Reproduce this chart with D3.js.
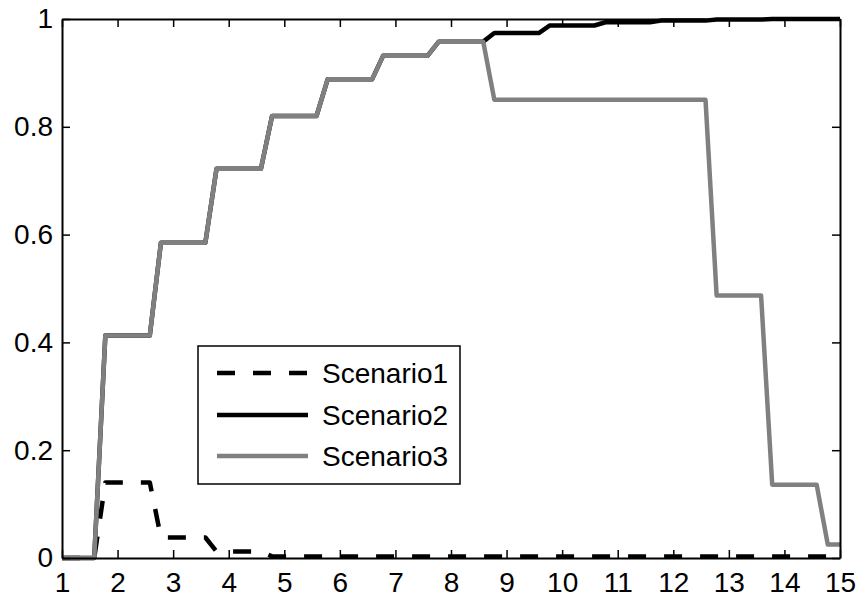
<!DOCTYPE html>
<html>
<head>
<meta charset="utf-8">
<script src="https://cdn.jsdelivr.net/npm/d3@7"></script>
<style>
html,body{margin:0;padding:0;background:#fff;}
svg{display:block;}
text{font-family:Arial,"Liberation Sans",Helvetica,sans-serif;fill:#000;}
</style>
</head>
<body>
<svg id="chart" width="864" height="605"></svg>
<script>
// ---- data ----
const xValues = [1, 1.58, 1.78, 2.58, 2.78, 3.58, 3.78, 4.58, 4.78, 5.58, 5.78, 6.58, 6.78, 7.58, 7.78, 8.58, 8.78, 9.58, 9.78, 10.58, 10.78, 11.58, 11.78, 12.58, 12.78, 13.58, 13.78, 14.58, 14.78, 15];
const scenario1 = [0, 0, 0.14, 0.14, 0.038, 0.038, 0.012, 0.012, 0.003, 0.003, 0.003, 0.003, 0.003, 0.003, 0.003, 0.003, 0.003, 0.003, 0.003, 0.003, 0.003, 0.003, 0.003, 0.003, 0.003, 0.003, 0.003, 0.003, 0.003, 0.003];
const scenario2 = [0, 0, 0.413, 0.413, 0.585, 0.585, 0.722, 0.722, 0.82, 0.82, 0.888, 0.888, 0.932, 0.932, 0.958, 0.958, 0.974, 0.974, 0.988, 0.988, 0.994, 0.994, 0.997, 0.997, 0.999, 0.999, 1, 1, 1, 1];
const scenario3 = [0, 0, 0.413, 0.413, 0.585, 0.585, 0.722, 0.722, 0.82, 0.82, 0.888, 0.888, 0.932, 0.932, 0.958, 0.958, 0.85, 0.85, 0.85, 0.85, 0.85, 0.85, 0.85, 0.85, 0.487, 0.487, 0.136, 0.136, 0.025, 0.025];
const seriesNames = ["Scenario1", "Scenario2", "Scenario3"];
const xTicks = [1, 2, 3, 4, 5, 6, 7, 8, 9, 10, 11, 12, 13, 14, 15];
const yTicks = [0, 0.2, 0.4, 0.6, 0.8, 1];

// ---- layout ----
const L = 62, R = 840, T = 19, B = 558;
const svg = d3.select("#chart");
const x = d3.scaleLinear().domain([1, 15]).range([L, R]);
const y = d3.scaleLinear().domain([0, 1]).range([B, T]);
const fontSize = 28;

const styles = [
  {color: "#000", dash: "18,18"},
  {color: "#000", dash: null},
  {color: "#808080", dash: null}
];
const allSeries = [scenario1, scenario2, scenario3];

// lines
const line = d3.line().x((d, i) => x(xValues[i])).y(d => y(d));
svg.append("clipPath").attr("id", "clip").append("rect")
  .attr("x", L).attr("y", T - 3).attr("width", R - L).attr("height", B - T + 6);
const gLines = svg.append("g").attr("clip-path", "url(#clip)");
allSeries.forEach((s, k) => {
  gLines.append("path").datum(s)
    .attr("d", line)
    .attr("fill", "none")
    .attr("stroke", styles[k].color)
    .attr("stroke-width", 4.5)
    .attr("stroke-linejoin", "round")
    .attr("stroke-dasharray", styles[k].dash);
});

// axes (box with inward ticks)
const tickLen = 8;
const axB = svg.append("g").attr("transform", `translate(0,${B})`)
  .call(d3.axisBottom(x).tickValues(xTicks).tickSizeInner(-tickLen).tickSizeOuter(0).tickPadding(14).tickFormat(d3.format("d")));
const axT = svg.append("g").attr("transform", `translate(0,${T})`)
  .call(d3.axisTop(x).tickValues(xTicks).tickSizeInner(-tickLen).tickSizeOuter(0).tickFormat(""));
const axL = svg.append("g").attr("transform", `translate(${L},0)`)
  .call(d3.axisLeft(y).tickValues(yTicks).tickSizeInner(-tickLen).tickSizeOuter(0).tickPadding(9).tickFormat(d => d === 0 ? "0" : d === 1 ? "1" : d3.format(".1f")(d)));
const axR = svg.append("g").attr("transform", `translate(${R},0)`)
  .call(d3.axisRight(y).tickValues(yTicks).tickSizeInner(-tickLen).tickSizeOuter(0).tickFormat(""));
[axB, axT, axL, axR].forEach(g => {
  g.select(".domain").attr("stroke", "#000").attr("stroke-width", 2);
  g.selectAll(".tick line").attr("stroke", "#000").attr("stroke-width", 1.5);
  g.selectAll("text").attr("font-size", fontSize).attr("font-family", "Arial, 'Liberation Sans', sans-serif").attr("fill", "#000");
});
axB.selectAll("text").attr("dy", "0.71em");

// legend
const lg = svg.append("g");
const lgX = 198, lgY = 346, lgW = 262, lgH = 138;
lg.append("rect").attr("x", lgX).attr("y", lgY).attr("width", lgW).attr("height", lgH)
  .attr("fill", "#fff").attr("stroke", "#000").attr("stroke-width", 1.5);
const rowY = [373, 415, 456];
seriesNames.forEach((name, k) => {
  lg.append("line").attr("x1", 217).attr("x2", 308).attr("y1", rowY[k]).attr("y2", rowY[k])
    .attr("stroke", styles[k].color).attr("stroke-width", 4.5)
    .attr("stroke-dasharray", styles[k].dash);
  lg.append("text").attr("x", 322).attr("y", rowY[k]).attr("dy", "0.36em")
    .attr("font-size", fontSize).text(name);
});
</script>
</body>
</html>
